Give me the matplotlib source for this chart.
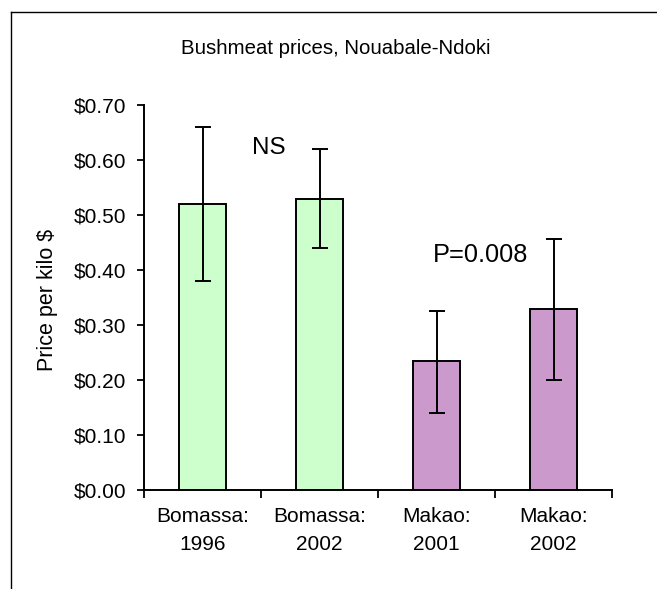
import matplotlib
matplotlib.use("Agg")
import matplotlib.pyplot as plt
from matplotlib.lines import Line2D
from matplotlib.ticker import FixedLocator, FuncFormatter

plt.rcParams['font.family'] = ['Liberation Sans', 'DejaVu Sans']

# Mean price per kilo (USD) with error bar limits
categories = ["Bomassa:\n1996", "Bomassa:\n2002", "Makao:\n2001", "Makao:\n2002"]
prices = [0.52, 0.53, 0.235, 0.33]
err_low = [0.38, 0.44, 0.14, 0.20]
err_high = [0.66, 0.62, 0.325, 0.457]
bar_colors = ["#CCFFCC", "#CCFFCC", "#CC99CC", "#CC99CC"]
y_ticks = [0.0, 0.1, 0.2, 0.3, 0.4, 0.5, 0.6, 0.7]

W, H = 657, 589
fig = plt.figure(figsize=(W / 100, H / 100), dpi=100)
ax = fig.add_axes([144 / W, 1 - 490 / H, 468 / W, 385 / H])

x = list(range(len(categories)))
yerr = [[p - lo for p, lo in zip(prices, err_low)],
        [hi - p for p, hi in zip(prices, err_high)]]
ax.bar(x, prices, width=0.405, color=bar_colors, edgecolor="black",
       linewidth=1.4, zorder=2)
ax.errorbar(x, prices, yerr=yerr, fmt="none", ecolor="black",
            elinewidth=1.4, capsize=5.5, capthick=1.4, zorder=3)

ax.set_xlim(-0.5, len(categories) - 0.5)
ax.set_ylim(0, 0.7)

# Category labels centred on bars, tick marks between categories
ax.set_xticks(x)
ax.set_xticklabels(categories, fontsize=15, linespacing=1.65)
ax.tick_params(axis="x", which="major", length=0, pad=12)
ax.xaxis.set_minor_locator(FixedLocator([i - 0.5 for i in range(len(categories) + 1)]))
ax.tick_params(axis="x", which="minor", direction="out", length=6,
               width=1.3, color="black")

ax.set_yticks(y_ticks)
ax.yaxis.set_major_formatter(FuncFormatter(lambda v, _: f"${v:.2f}"))
ax.tick_params(axis="y", direction="out", length=5, width=1.3,
               labelsize=15, pad=8)

for side in ("top", "right"):
    ax.spines[side].set_visible(False)
for side in ("left", "bottom"):
    ax.spines[side].set_linewidth(1.4)
    ax.spines[side].set_color("black")
ax.set_facecolor("white")

ax.text(0.568, 0.622, "NS", fontsize=17.5, ha="center", va="center")
ax.text(2.38, 0.427, "P=0.008", fontsize=18.3, ha="center", va="center")

fig.text(336 / W, 1 - 49 / H, "Bushmeat prices, Nouabale-Ndoki",
         fontsize=14.7, ha="center", va="center")
fig.text(47 / W, 1 - 300 / H, "Price per kilo $", fontsize=15.5,
         rotation=90, ha="center", va="center")

# Chart frame
fx, fy = 11 / W, 1 - 12 / H
fig.add_artist(Line2D([fx, fx], [0, fy], transform=fig.transFigure,
                      color="black", linewidth=1.0))
fig.add_artist(Line2D([fx, 1], [fy, fy], transform=fig.transFigure,
                      color="black", linewidth=1.0))

fig.savefig("out.png", dpi=100, facecolor="white")
